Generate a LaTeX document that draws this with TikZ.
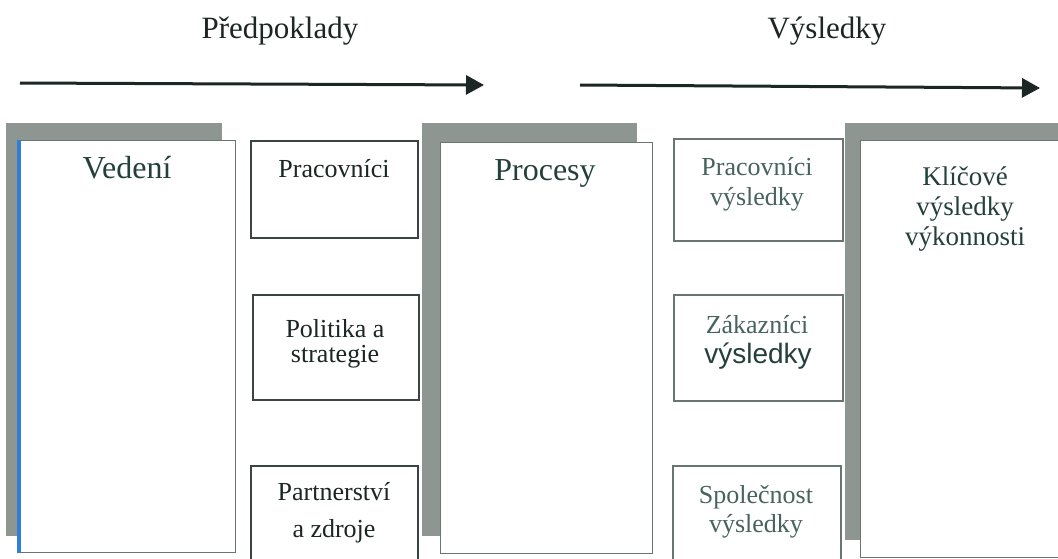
\documentclass[tikz,border=0pt]{standalone}
\usepackage{fontspec}
\setmainfont{Liberation Serif}
\newfontfamily\sansfont{Liberation Sans}
\usetikzlibrary{arrows.meta}

\definecolor{shadowgray}{HTML}{8E9692}
\definecolor{inkdark}{HTML}{1C2624}
\definecolor{inkteal}{HTML}{24403C}
\definecolor{inksoft}{HTML}{47635D}
\definecolor{edgeblue}{HTML}{2F7FD8}
\definecolor{boxedge}{HTML}{6A7470}
\definecolor{boxedgedark}{HTML}{3A4442}

\tikzset{
  shadowfill/.style={fill=shadowgray},
  bigbox/.style={draw=boxedge, line width=1pt, fill=white, anchor=north west, inner sep=0pt},
  smallbox/.style={draw=boxedgedark, line width=1.5pt, fill=white, anchor=north west, inner sep=0pt},
  resultbox/.style={draw=boxedge, line width=2pt, fill=white, anchor=north west, inner sep=0pt},
  heading/.style={anchor=base, font=\fontsize{31}{36}\selectfont, text=inkdark},
  biglabel/.style={anchor=base, font=\fontsize{32}{38}\selectfont, text=inkteal},
  smalllabel/.style={anchor=base, font=\fontsize{26}{30}\selectfont, text=inkdark},
  resultlabel/.style={anchor=base, font=\fontsize{26}{30}\selectfont, text=inksoft},
  keylabel/.style={anchor=base, font=\fontsize{27}{31}\selectfont, text=inkteal},
  flow/.style={line width=3pt, color=inkdark, -{Triangle[length=18pt, width=19pt]}}
}

\begin{document}
\begin{tikzpicture}[x=1pt, y=-1pt]
\clip (0,0) rectangle (1058,558);
\fill[white] (0,0) rectangle (1058,558);

% headings and flow arrows
\node[heading] (pre) at (280,38) {Předpoklady};
\node[heading] (res) at (827,38) {Výsledky};
\coordinate (preStart) at (20,83);
\coordinate (preEnd) at (484,85);
\coordinate (resStart) at (580,85);
\coordinate (resEnd) at (1040,88);
\draw[flow] (preStart) -- (preEnd);
\draw[flow] (resStart) -- (resEnd);

% large columns with their offset shadows
\fill[shadowfill] (6,123) rectangle (222,536);
\node[bigbox, minimum width=216pt, minimum height=412pt] (lead) at (19,140) {};
\draw[edgeblue, line width=3.5pt] (lead.north west) -- (lead.south west);

\fill[shadowfill] (422,123) rectangle (637,536);
\node[bigbox, minimum width=212pt, minimum height=411pt] (proc) at (440,142) {};

\fill[shadowfill] (845,123) rectangle (1070,540);
\node[bigbox, minimum width=210pt, minimum height=417pt] (kpi) at (860,140) {};

% enablers
\node[smallbox, minimum width=167pt, minimum height=97pt] (people) at (250,140) {};
\node[smallbox, minimum width=166pt, minimum height=105pt] (policy) at (252,294) {};
\node[smallbox, minimum width=167pt, minimum height=110pt] (partner) at (250,465) {};

% results
\node[resultbox, minimum width=169pt, minimum height=102pt] (peopleRes) at (673,138) {};
\node[resultbox, minimum width=169pt, minimum height=106pt] (custRes) at (673,294) {};
\node[resultbox, minimum width=168pt, minimum height=110pt] (socRes) at (672,465) {};

% labels
\node[biglabel] (leadT) at (127,178) {Vedení};
\node[biglabel] (procT) at (545,180) {Procesy};

\node[smalllabel] (peopleT) at (334,177) {Pracovníci};
\node[smalllabel] (policyT1) at (335,337) {Politika a};
\node[smalllabel] (policyT2) at (335,362) {strategie};
\node[smalllabel] (partnerT1) at (334,500) {Partnerství};
\node[smalllabel] (partnerT2) at (334,537) {a zdroje};

\node[resultlabel] (peopleResT1) at (757,175) {Pracovníci};
\node[resultlabel] (peopleResT2) at (757,205) {výsledky};
\node[resultlabel] (custResT1) at (757,333) {Zákazníci};
\node[anchor=base, font=\sansfont\fontsize{28}{32}\selectfont, text=inkteal] (custResT2) at (758,363) {výsledky};
\node[resultlabel] (socResT1) at (756,503) {Společnost};
\node[resultlabel] (socResT2) at (756,532) {výsledky};

\node[keylabel] (kpiT1) at (965,185) {Klíčové};
\node[keylabel] (kpiT2) at (965,215) {výsledky};
\node[keylabel] (kpiT3) at (965,245) {výkonnosti};
\end{tikzpicture}
\end{document}
